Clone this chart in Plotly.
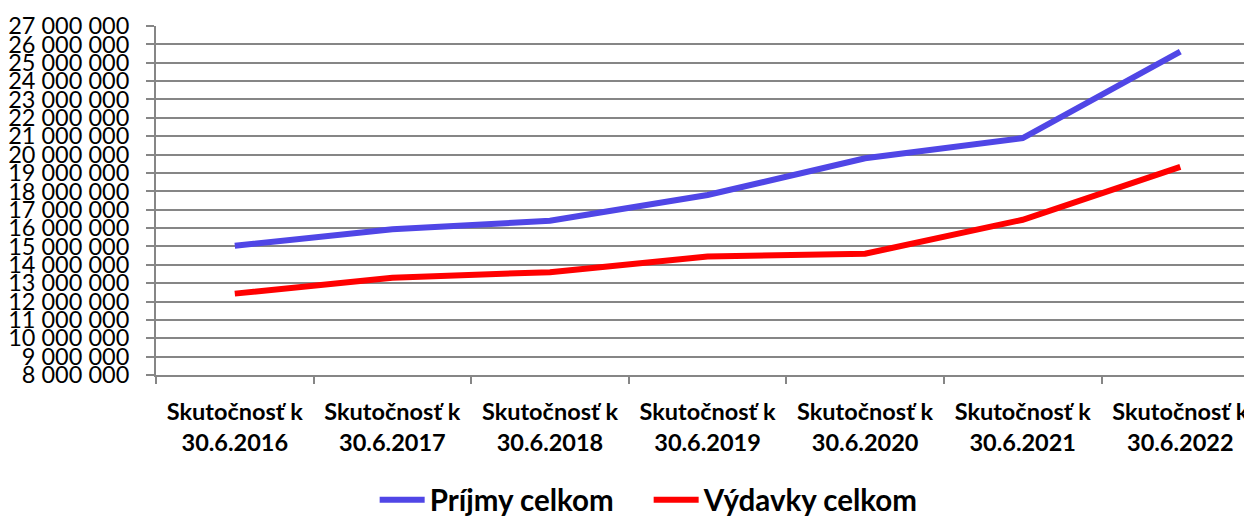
import plotly.graph_objects as go

categories = ["Skutočnosť k<br>30.6.2016", "Skutočnosť k<br>30.6.2017", "Skutočnosť k<br>30.6.2018",
              "Skutočnosť k<br>30.6.2019", "Skutočnosť k<br>30.6.2020", "Skutočnosť k<br>30.6.2021",
              "Skutočnosť k<br>30.6.2022"]
prijmy = [15040000, 15930000, 16400000, 17800000, 19800000, 20900000, 25600000]
vydavky = [12430000, 13300000, 13600000, 14450000, 14600000, 16450000, 19330000]
tick_vals = list(range(8000000, 27000001, 1000000))
tick_text = ["{:,}".format(v).replace(",", " ") for v in tick_vals]

FONT = "Lato"

fig = go.Figure()
fig.add_trace(go.Scatter(x=categories, y=prijmy, mode="lines", name="Príjmy celkom",
                         line=dict(color="#5046E6", width=6)))
fig.add_trace(go.Scatter(x=categories, y=vydavky, mode="lines", name="Výdavky celkom",
                         line=dict(color="#FF0000", width=6)))

fig.update_layout(
    width=1244, height=508,
    margin=dict(l=148, r=0, t=18, b=141, autoexpand=False),
    paper_bgcolor="white", plot_bgcolor="white",
    font=dict(family=FONT, color="black"),
    showlegend=True,
    legend=dict(orientation="h", xref="container", yref="container",
                x=0.515, xanchor="center", y=0.0315, yanchor="middle",
                font=dict(size=29.5, family=FONT, weight="bold"),
                itemwidth=45, tracegroupgap=0, entrywidth=214, entrywidthmode="pixels"),
    xaxis=dict(type="category", range=[-0.5, 6.455], showgrid=False, automargin=False,
               showline=True, linecolor="#868686", linewidth=2,
               ticks="outside", tickson="boundaries", ticklen=7, tickcolor="#868686", tickwidth=2,
               tickfont=dict(size=23.5, family=FONT, weight="bold"), ticklabelstandoff=15),
    yaxis=dict(range=[8000000, 27000000], tickvals=tick_vals, ticktext=tick_text, automargin=False,
               showgrid=True, gridcolor="#868686", gridwidth=1.5,
               showline=True, linecolor="#868686", linewidth=2,
               ticks="outside", ticklen=8, tickcolor="#868686", tickwidth=2,
               tickfont=dict(size=23.5, family=FONT), zeroline=False, ticklabelstandoff=12),
)

fig.write_html("out.html")
